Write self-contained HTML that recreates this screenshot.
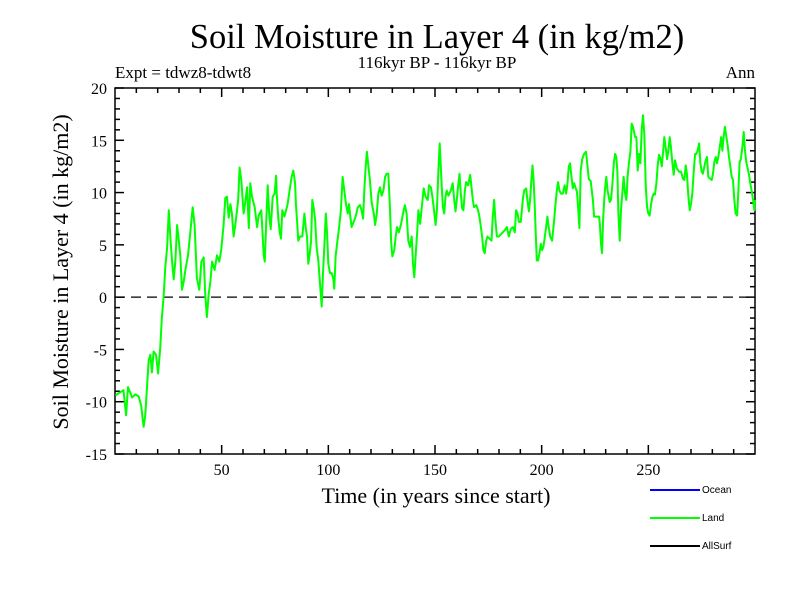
<!DOCTYPE html>
<html><head><meta charset="utf-8"><style>
body{margin:0;background:#fff}
svg{display:block}
text{font-family:"Liberation Serif",serif;fill:#000}
</style></head><body>
<svg id="chart" width="800" height="600">
<text x="437" y="48" font-size="34.5" text-anchor="middle">Soil Moisture in Layer 4 (in kg/m2)</text>
<text x="437" y="68" font-size="17" text-anchor="middle">116kyr BP - 116kyr BP</text>
<text x="115" y="78" font-size="17">Expt = tdwz8-tdwt8</text>
<text x="755" y="78" font-size="17" text-anchor="end">Ann</text>
<text transform="translate(68,272) rotate(-90)" font-size="22" text-anchor="middle">Soil Moisture in Layer 4 (in kg/m2)</text>
<text x="436" y="503" font-size="22" text-anchor="middle">Time (in years since start)</text>
<g id="axes"></g>
<g id="series"></g>
<g>
<line x1="650" y1="490" x2="700" y2="490" stroke="#0000ff" stroke-width="2"/>
<text x="702" y="493" font-size="10" style="font-family:'Liberation Sans',sans-serif">Ocean</text>
<line x1="650" y1="518" x2="700" y2="518" stroke="#00ff00" stroke-width="2"/>
<text x="702" y="521" font-size="10" style="font-family:'Liberation Sans',sans-serif">Land</text>
<line x1="650" y1="546" x2="700" y2="546" stroke="#000" stroke-width="2"/>
<text x="702" y="549" font-size="10" style="font-family:'Liberation Sans',sans-serif">AllSurf</text>
</g>
</svg>
<script>
const yTickLabels=[-15,-10,-5,0,5,10,15,20];
const xTickLabels=[50,100,150,200,250];
const years=[0.2,4,5.2,6.1,8,9.5,11.1,12.3,13.4,14.2,15,15.8,16.6,17.3,18.1,19.2,20.2,21.2,22,22.8,23.6,24.4,25.2,25.9,26.7,27.5,28.3,29.1,29.8,30.6,31.4,32.2,33,34.2,35.3,36.4,37.3,38.4,39.5,40.5,41.6,42.3,43.1,43.9,44.7,45.5,46.7,47.8,48.9,49.8,50.9,51.7,52.5,53.3,54.1,54.8,55.6,56.4,57.7,58.4,59.2,60.3,61.1,61.9,62.7,63.4,64.2,65.5,66.6,67.3,68.6,69.7,70.2,70.8,71.6,72.3,73,73.9,74.8,75.5,
75.8,76.6,77.3,77.8,78.4,79.4,80.2,80.9,82,82.8,83.6,84.4,84.8,85.3,85.9,86.7,87.8,88.8,89.4,90,90.6,91.3,91.9,92.5,93.1,93.8,94.5,95.3,96.1,96.9,97.5,98.1,98.8,99.4,100,100.8,101.6,102.3,102.8,103.4,104.1,105,105.9,106.7,107.5,108.3,109.1,109.7,110.3,110.9,111.9,112.8,113.8,114.8,115.6,116.3,116.9,117.5,118.1,118.8,119.5,120.3,121.3,121.9,122.7,123.4,124.2,125,125.8,126.6,127.3,128.1,128.8,129.4,130,130.9,131.6,132.2,133.1,134.1,135,135.9,136.7,137.5,138.3,139.1,139.7,140.3,140.9,141.6,142.2,143,143.8,144.7,145.6,146.6,147.2,148.1,148.8,149.7,150.3,150.9,151.6,152.2,
153.2,153.7,154.3,154.9,155.5,156.3,157.4,158.3,159,159.6,160.2,160.8,161.5,162.1,162.7,163.3,164,164.6,165.5,166.5,167.1,167.7,168.3,169.3,170.2,170.8,171.5,172.1,172.7,173.3,174,174.6,175.5,176.5,177.1,177.7,178.3,179,179.9,180.8,181.8,182.7,183.7,184.6,185.5,186.5,187.4,188,188.7,189.3,190.2,191.2,191.8,192.7,193.3,194,194.6,195.2,195.7,196.2,196.8,197.2,197.7,198.3,199,199.6,200.2,200.8,201.5,202.1,202.7,203.3,204,204.9,205.8,206.5,207.1,207.7,208.3,209,209.9,210.8,211.5,212.1,212.7,213.3,214,214.6,215.2,215.8,216.5,217.1,217.7,218.3,219,219.9,220.8,221.5,222.1,223,224,224.6,
226.3,226.9,227.3,227.8,228.3,228.8,229.4,229.8,230.3,230.9,231.9,232.5,233.1,233.8,234.4,235,235.5,235.9,236.6,237.2,237.8,238.4,239.1,239.7,240.3,240.9,241.6,242.2,242.8,243.8,244.4,245,245.6,246.3,246.9,247.5,248.1,248.8,249.4,250,250.6,251.3,251.9,252.5,253.1,253.8,254.4,255,255.6,256.3,256.9,257.5,258.1,258.8,259.4,260,260.6,261.3,261.9,262.5,263.4,264.4,265.3,266.3,266.9,267.5,268.1,268.8,269.4,270,270.6,271.3,271.9,272.5,273.1,273.8,274.4,275,275.6,276.3,276.9,277.5,278.1,279.1,279.7,280.3,280.9,281.6,282.2,282.8,283.4,284.1,284.7,285.3,285.9,286.6,287.2,287.8,288.4,289.1,289.7,290.3,290.9,291.6,292.2,292.8,293.4,294.1,294.7,295.3,295.9,296.6,297.2,297.8,298.4,299.1,299.7,300];
const landValues=[-9.4,-8.9,-11.3,-8.6,-9.6,-9.3,-9.5,-10.4,-12.4,-11.3,-8.6,-6.0,-5.5,-7.2,-5.2,-5.5,-7.3,-4.9,-1.9,0,2.9,4.7,8.3,5.8,3.5,1.7,3.5,6.9,5.6,4.0,0.7,1.5,2.6,4.0,6.2,8.6,6.9,1.8,0.7,3.4,3.8,0.3,-1.9,0.3,1.5,3.4,2.6,4.0,3.4,4.5,6.9,9.5,9.6,7.6,8.9,8.0,5.8,6.9,9.2,12.4,11.2,8.0,9.1,10.5,6.6,10.9,9.6,8.6,6.7,7.8,8.3,4.0,3.4,6.6,10.7,7.9,6.5,9.6,9.9,11.6,
9.9,7.4,6.1,5.6,8.3,7.7,8.3,8.9,10.4,11.5,12.1,10.9,8.9,7.4,5.4,5.8,5.8,8.0,6.7,5.8,3.2,4.2,5.4,9.3,8.6,7.4,4.8,3.5,1.3,-0.9,2.3,4.8,8.0,6.1,3.2,2.3,2.3,1.8,0.8,3.9,5.1,6.6,8.3,11.5,10.2,8.9,8.0,8.9,7.7,6.7,7.2,7.7,8.6,8.8,8.3,7.5,10.4,12.5,13.9,12.5,11.2,9.1,8.0,6.9,8.0,9.9,10.5,9.7,10.2,11.5,11.8,11.8,8.9,5.4,3.9,4.5,5.8,6.7,6.2,7.0,8.0,8.8,8.0,5.4,4.8,5.8,3.2,1.9,3.9,6.1,8.3,7.0,8.6,10.4,9.6,9.3,10.7,10.5,9.6,8.0,6.9,8.3,12.1,14.7,
10.5,8.6,8.0,9.6,10.2,9.7,10.2,10.9,9.3,8.2,9.3,10.5,11.8,9.9,8.5,8.3,10.2,11.0,10.7,11.7,10.5,9.3,8.6,8.8,8.3,7.7,6.7,5.8,4.5,4.2,5.4,5.8,5.6,5.4,7.7,9.3,7.4,5.8,5.8,6.0,6.2,6.4,6.7,5.8,6.5,6.7,6.2,8.3,8.0,7.2,7.2,9.4,10.2,10.4,9.3,8.2,9.3,11.2,12.6,11.2,8.6,6.2,3.5,3.5,4.2,5.1,4.5,4.8,5.8,6.7,7.7,6.7,5.8,5.4,7.2,8.9,10.2,11.0,10.2,9.9,9.9,10.7,9.9,10.9,12.5,12.8,11.5,10.4,10.9,10.5,10.1,8.6,6.6,12.1,13.2,13.7,13.9,12.5,11.3,11.1,9.3,7.7,7.7,
7.7,6.9,5.1,4.2,7.4,9.6,10.5,11.5,10.2,9.1,9.3,10.7,12.8,13.7,13.4,12.0,8.3,5.4,8.3,9.9,11.5,9.9,9.3,11.5,12.8,13.9,16.6,16.3,15.3,15.3,12.1,13.7,12.8,16.0,17.4,15.6,10.5,8.6,8.0,7.8,8.9,9.6,9.9,9.8,10.9,12.6,13.6,13.3,12.5,13.9,15.3,14.4,13.2,14.0,15.3,14.4,12.8,11.7,13.1,12.3,12.0,12.0,11.3,11.2,12.6,11.8,9.6,8.3,8.9,9.9,12.1,13.7,13.7,14.0,14.7,12.8,12.0,11.8,12.5,13.1,13.4,11.5,11.3,11.2,11.8,12.9,13.4,12.8,13.4,14.2,15.3,14.0,15.3,16.3,15.3,14.5,13.4,12.5,11.5,11.2,9.3,8.0,7.8,10.2,12.9,13.2,14.4,15.8,14.0,12.9,12.3,11.7,10.9,10.2,9.3,8.3,9.3,9.6];
const NS='http://www.w3.org/2000/svg';
const L=115,R=755,T=88,B=454,X0=0,X1=300,Y0=-15,Y1=20;
const sx=v=>L+(v-X0)/(X1-X0)*(R-L);
const sy=v=>B-(v-Y0)/(Y1-Y0)*(B-T);
const axes=document.getElementById('axes');
function mk(tag,attrs,parent){const e=document.createElementNS(NS,tag);for(const k in attrs)e.setAttribute(k,attrs[k]);parent.appendChild(e);return e;}
const frame=mk('rect',{x:L,y:T,width:R-L,height:B-T,fill:'none',stroke:'#000','stroke-width':1.5},axes);


for(let v=Y0;v<=Y1;v++){
  const maj=v%5===0,len=maj?9:5,y=sy(v);
  const t1=mk('line',{x1:L,y1:y,x2:L+len,y2:y,stroke:'#000','stroke-width':1.5},axes);
  
  
  const t2=mk('line',{x1:R,y1:y,x2:R-len,y2:y,stroke:'#000','stroke-width':1.5},axes);
  
  
}
yTickLabels.forEach(v=>{
  const t=mk('text',{x:L-8,y:sy(v)+6,'font-size':16,'text-anchor':'end'},axes);
  t.textContent=v;
  
  
});
for(let v=10;v<X1;v+=10){
  const maj=v%50===0,len=maj?9:5,x=sx(v);
  const t1=mk('line',{x1:x,y1:B,x2:x,y2:B-len,stroke:'#000','stroke-width':1.5},axes);
  
  
  const t2=mk('line',{x1:x,y1:T,x2:x,y2:T+len,stroke:'#000','stroke-width':1.5},axes);
  
  
}
xTickLabels.forEach(v=>{
  const t=mk('text',{x:sx(v),y:B+21,'font-size':16,'text-anchor':'middle'},axes);
  t.textContent=v;
  
  
});
const zero=mk('line',{x1:L,y1:sy(0),x2:R,y2:sy(0),stroke:'#000','stroke-width':1.3,'stroke-dasharray':'10,6'},axes);


const pts=years.map((yr,i)=>sx(yr).toFixed(1)+','+sy(landValues[i]).toFixed(1)).join(' ');
const line=mk('polyline',{points:pts,fill:'none',stroke:'#00ff00','stroke-width':2,'stroke-linejoin':'round'},document.getElementById('series'));


</script>
</body></html>
